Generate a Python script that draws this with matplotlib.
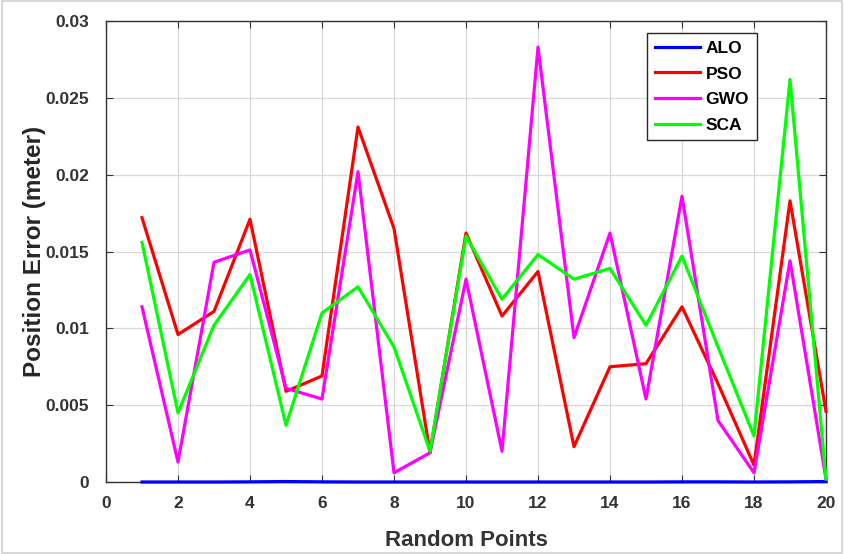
import matplotlib
matplotlib.use("Agg")
import matplotlib.pyplot as plt
from matplotlib.patches import Rectangle

x = list(range(1, 21))
alo = [0.0, 0.0, 0.0, 0.00001, 0.00003, 0.00001, 0.0, 0.0, 0.0, 0.0,
       0.0, 0.0, 0.0, 0.0, 0.0, 0.00001, 0.00001, 0.0, 0.00001, 0.00003]
pso = [0.0172, 0.0096, 0.0111, 0.0171, 0.0059, 0.0069, 0.0231, 0.0165, 0.0019, 0.0162,
       0.0108, 0.0137, 0.0023, 0.0075, 0.0077, 0.0114, 0.0064, 0.0011, 0.0183, 0.0046]
gwo = [0.0114, 0.0013, 0.0143, 0.0151, 0.0061, 0.0054, 0.0202, 0.0006, 0.0019, 0.0132,
       0.0020, 0.0283, 0.0094, 0.0162, 0.0054, 0.0186, 0.0040, 0.0006, 0.0144, 0.0002]
sca = [0.0156, 0.0045, 0.0102, 0.0135, 0.0037, 0.0110, 0.0127, 0.0088, 0.0020, 0.0160,
       0.0119, 0.0148, 0.0132, 0.0139, 0.0102, 0.0147, 0.0088, 0.0030, 0.0262, 0.0002]
labels = ["ALO", "PSO", "GWO", "SCA"]
colors = ["#0000ff", "#ff0000", "#ff00ff", "#00ff00"]
xticks = list(range(0, 21, 2))
yticks = [0, 0.005, 0.01, 0.015, 0.02, 0.025, 0.03]
yticklabels = ["0", "0.005", "0.01", "0.015", "0.02", "0.025", "0.03"]

plt.rcParams['font.family'] = ['Liberation Sans', 'DejaVu Sans']
fig = plt.figure(figsize=(8.44, 5.54), dpi=100)
fig.patches.append(Rectangle((0.002, 0.002), 0.996, 0.996, transform=fig.transFigure,
                             fill=False, edgecolor='#d0d0d0', linewidth=1.2))
ax = fig.add_axes([106/844, 1-482/554, (826-106)/844, (482-21)/554])
for s, lab, c in zip([alo, pso, gwo, sca], labels, colors):
    ax.plot(x, s, color=c, linewidth=2.3, label=lab, clip_on=False, zorder=3)
ax.set_xlim(0, 20)
ax.set_ylim(0, 0.03)
ax.set_xticks(xticks)
ax.set_xticklabels([str(t) for t in xticks], fontsize=12.5, fontweight='bold', color='#333333')
ax.set_yticks(yticks)
ax.set_yticklabels(yticklabels, fontsize=12.5, fontweight='bold', color='#333333')
ax.grid(True, color='#d9d9d9', linewidth=0.9)
ax.tick_params(axis='y', direction='in', right=True, length=5, color='#333333', pad=12)
ax.tick_params(axis='x', direction='in', top=True, length=5, color='#333333', pad=10)
for sp in ax.spines.values():
    sp.set_color('#333333')
    sp.set_linewidth(1.0)
    sp.set_zorder(2.5)
ax.set_xlabel("Random Points", fontsize=16, fontweight='bold', color='#333333', labelpad=14)
ax.set_ylabel("Position Error (meter)", fontsize=17.5, fontweight='bold', color='#262626', labelpad=0)
leg = ax.legend(loc='upper right', bbox_to_anchor=(0.904, 0.974), borderaxespad=0,
                prop={'weight': 'bold', 'size': 12.5}, fancybox=False, framealpha=1,
                edgecolor='#262626', handlelength=2.6, borderpad=0.45, labelspacing=0.6,
                handletextpad=0.3)
leg.get_frame().set_linewidth(1.0)
leg.set_zorder(5)
fig.savefig("out.png", dpi=100)
